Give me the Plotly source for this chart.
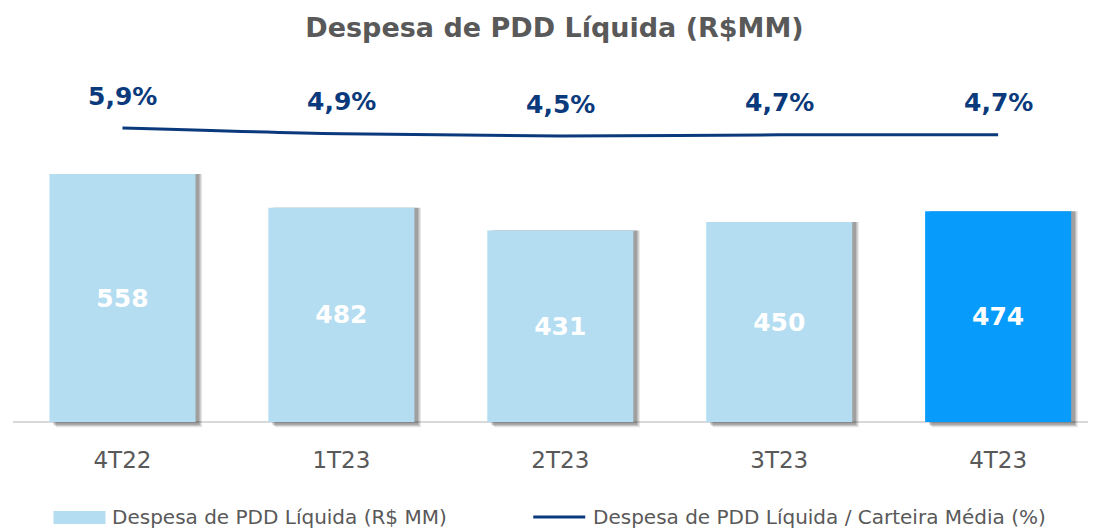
import plotly.graph_objects as go

categories = ["4T22", "1T23", "2T23", "3T23", "4T23"]
despesa = [558, 482, 431, 450, 474]
pct = [5.9, 4.9, 4.5, 4.7, 4.7]
bar_colors = ["#B4DDF1", "#B4DDF1", "#B4DDF1", "#B4DDF1", "#079CFC"]
legend_labels = ["Despesa de PDD Líquida (R$ MM)", "Despesa de PDD Líquida / Carteira Média (%)"]

FONT = "DejaVu Sans"
NAVY = "#0B3A7C"
GRAY = "#595959"
LIGHT = "#B4DDF1"

# screen-pixel helpers for the plot area (page has 8px body margin)
PX_L, PX_R, PX_T, PX_B = 12.5, 1096.0, 60.0, 440.0
def px(sx):
    return (sx - PX_L) / (PX_R - PX_L)
def py(sy):
    return (PX_B - sy) / (PX_B - PX_T)

fig = go.Figure()

# soft shadow layers
for dx, base, op in [(0.030, -12, 0.10), (0.024, -9, 0.14), (0.018, -6, 0.18)]:
    fig.add_trace(go.Bar(
        x=list(range(len(categories))), y=[v - base for v in despesa], base=base,
        width=0.667, offset=-0.3335 + dx,
        marker=dict(color=f"rgba(0,0,0,{op})", line=dict(width=0)),
        showlegend=False, hoverinfo="skip"))

fig.add_trace(go.Bar(
    x=list(range(len(categories))), y=despesa, width=0.667, offset=-0.3335,
    marker=dict(color=bar_colors, line=dict(width=0)),
    text=[str(v) for v in despesa], textposition="inside", insidetextanchor="middle",
    textfont=dict(family=FONT, size=25, color="white", weight="bold"),
    textangle=0, showlegend=False,
    name=legend_labels[0]))

fig.add_trace(go.Scatter(
    x=list(range(len(categories))), y=pct, yaxis="y2", mode="lines",
    line=dict(color=NAVY, width=3, shape="spline"), showlegend=False,
    name=legend_labels[1]))

for i, p in enumerate(pct):
    fig.add_annotation(x=i, y=p, yref="y2", text=f"{p:.1f}%".replace(".", ","),
                       showarrow=False, yshift=32,
                       font=dict(family=FONT, size=25, color=NAVY, weight="bold"))

# custom legend (wide swatches like the reference)
fig.add_shape(type="rect", xref="paper", yref="paper",
              x0=px(53), x1=px(105), y0=py(524), y1=py(511),
              fillcolor=LIGHT, line=dict(width=0))
fig.add_annotation(xref="paper", yref="paper", x=px(110), y=py(517),
                   xanchor="left", yanchor="middle", showarrow=False,
                   text=legend_labels[0], font=dict(family=FONT, size=20, color=GRAY))
fig.add_shape(type="line", xref="paper", yref="paper",
              x0=px(533), x1=px(585), y0=py(517), y1=py(517),
              line=dict(color=NAVY, width=3))
fig.add_annotation(xref="paper", yref="paper", x=px(591), y=py(517),
                   xanchor="left", yanchor="middle", showarrow=False,
                   text=legend_labels[1], font=dict(family=FONT, size=20, color=GRAY))

fig.update_layout(
    width=1096, height=529,
    margin=dict(l=PX_L - 8, r=8, t=PX_T - 8, b=529 - (PX_B - 8)),
    paper_bgcolor="white", plot_bgcolor="white",
    barmode="overlay",
    title=dict(text="<b>Despesa de PDD Líquida (R$MM)</b>", x=0.5, xref="paper",
               y=1 - 20 / 529, yanchor="middle",
               font=dict(family=FONT, size=27, color=GRAY)),
    xaxis=dict(tickvals=list(range(len(categories))), ticktext=categories,
               range=[-0.5, 4.447], showgrid=False, showline=False, zeroline=False,
               tickfont=dict(family=FONT, size=23, color=GRAY), ticks="", ticklen=0,
               ticklabelstandoff=4),
    yaxis=dict(range=[-40.5, 814.5], showticklabels=False, showgrid=False,
               zeroline=True, zerolinecolor="#D9D9D9", zerolinewidth=1.5, ticks=""),
    yaxis2=dict(range=[-48.74, 17.81], overlaying="y", visible=False),
    showlegend=False,
)

fig.write_html("out.html")
